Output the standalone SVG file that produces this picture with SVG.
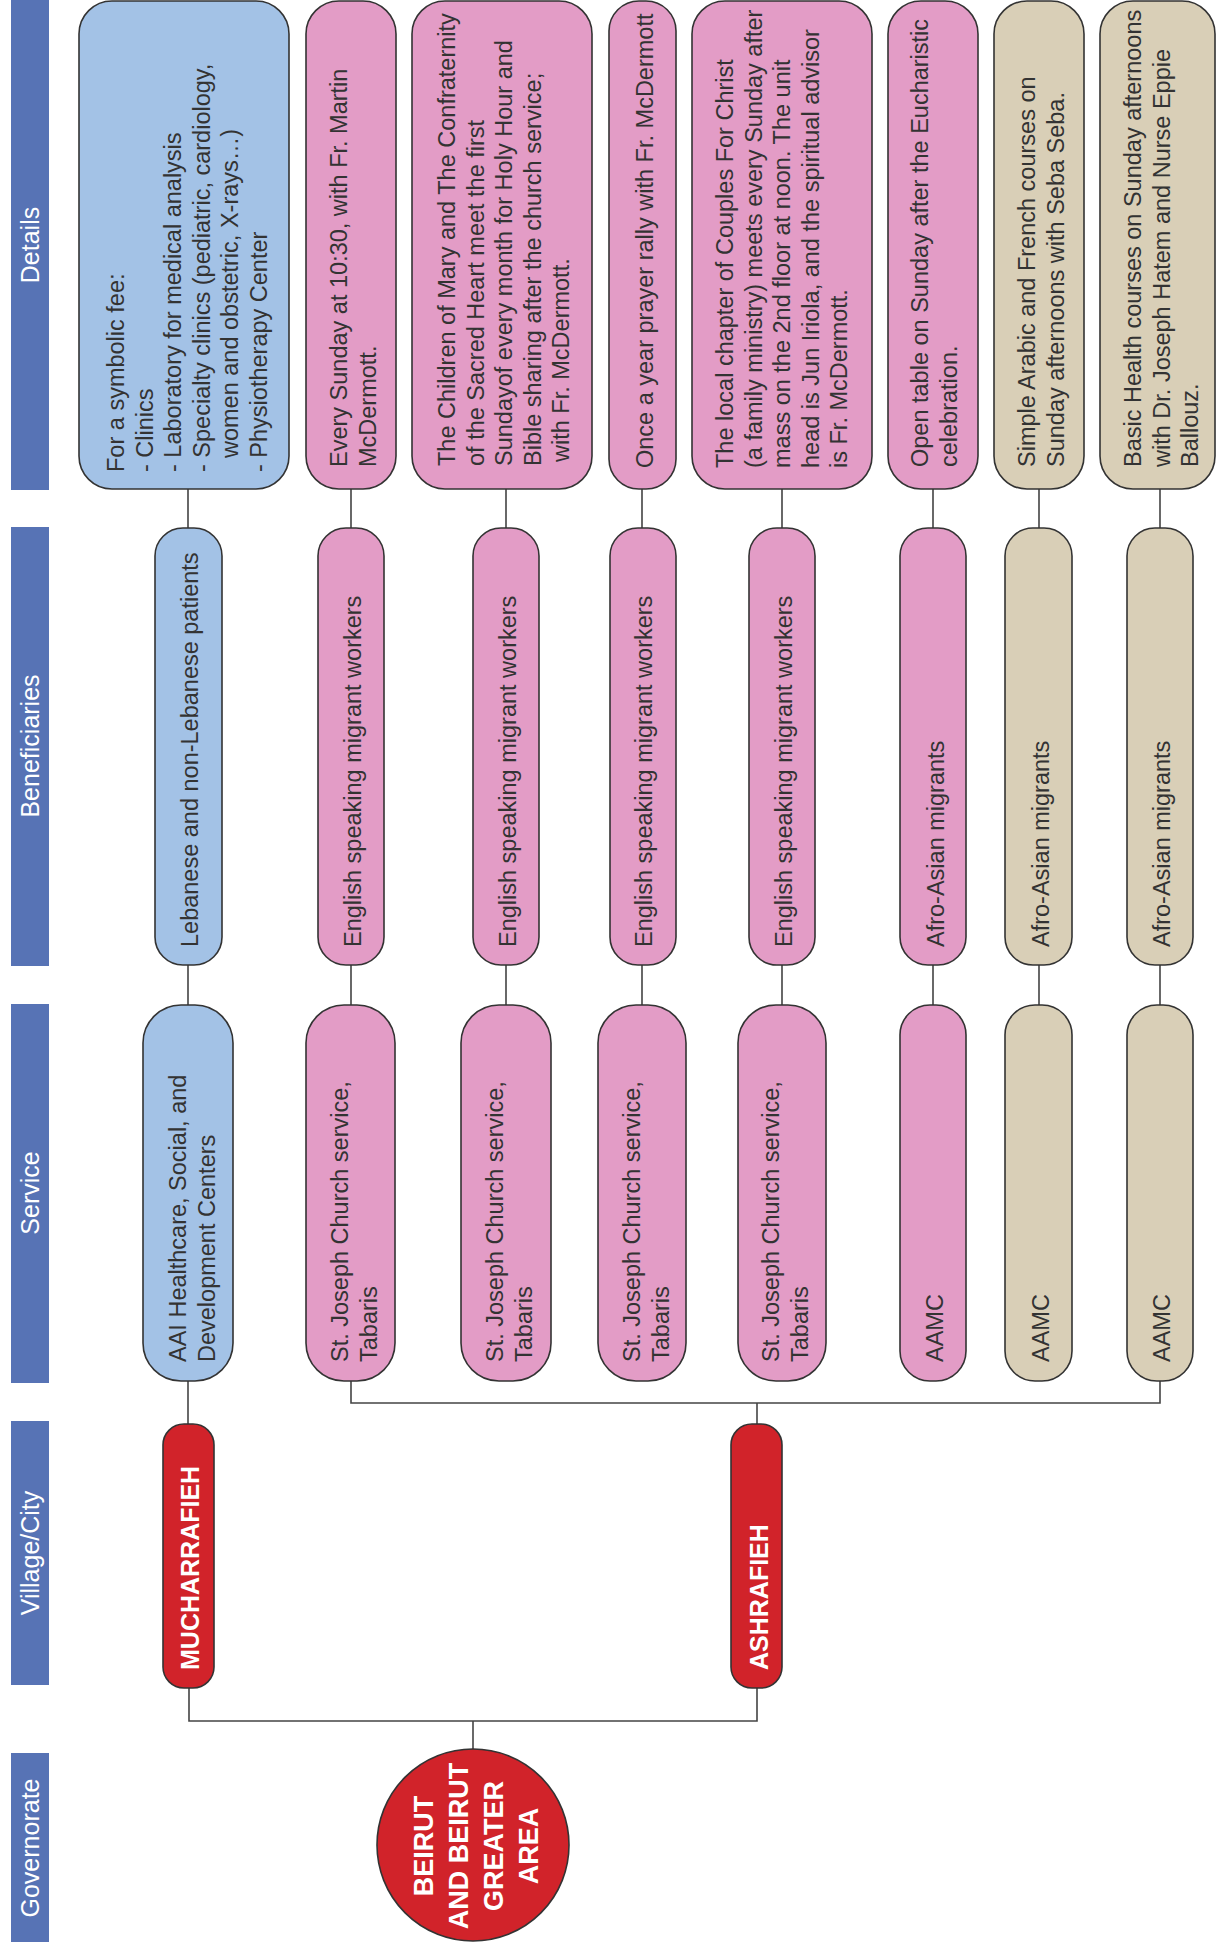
<svg xmlns="http://www.w3.org/2000/svg" width="1216" height="1949" viewBox="0 0 1216 1949">
<style>
.hdr{fill:#5773B5}
.ht{fill:#fff;font-family:"Liberation Sans",Arial,sans-serif;font-size:25px;text-anchor:middle}
.box{stroke:#333;stroke-width:1.6}
.blue{fill:#A3C2E6}
.pink{fill:#E39CC6}
.tan{fill:#D9CFB7}
.red{fill:#D1232A}
.t{font-family:"Liberation Sans",Arial,sans-serif;font-size:23.5px;fill:#333}
.tw{font-family:"Liberation Sans",Arial,sans-serif;font-weight:bold;fill:#fff}
.conn{stroke:#444;stroke-width:1.6;fill:none}
</style>
<rect width="1216" height="1949" fill="#fff"/>
<g id="headers">
<rect class="hdr" x="11" y="0" width="38" height="490"/>
<text class="ht" transform="translate(39,245) rotate(-90)">Details</text>
<rect class="hdr" x="11" y="527" width="38" height="439"/>
<text class="ht" transform="translate(39,746) rotate(-90)">Beneficiaries</text>
<rect class="hdr" x="11" y="1004" width="38" height="379"/>
<text class="ht" transform="translate(39,1193) rotate(-90)">Service</text>
<rect class="hdr" x="11" y="1421" width="38" height="264"/>
<text class="ht" transform="translate(39,1553) rotate(-90)">Village/City</text>
<rect class="hdr" x="11" y="1753" width="38" height="189"/>
<text class="ht" transform="translate(39,1848) rotate(-90)">Governorate</text>
</g>
<g id="connectors">
<path class="conn" d="M188 489V528M351 489V528M506 489V528M642 489V528M782 489V528M933 489V528M1039 489V528M1160 489V528"/>
<path class="conn" d="M188 965V1005M351 965V1005M506 965V1005M642 965V1005M782 965V1005M933 965V1005M1039 965V1005M1160 965V1005"/>
<path class="conn" d="M188 1381V1424"/>
<path class="conn" d="M351 1381V1403H1160V1381"/>
<path class="conn" d="M757 1403V1424"/>
<path class="conn" d="M189 1688V1721H757V1688"/>
<path class="conn" d="M473 1721V1749"/>
</g>
<g id="detail-1">
<rect class="box blue" x="79" y="1" width="210" height="488" rx="33"/>
<text class="t" transform="translate(124,472) rotate(-90)"><tspan x="0" y="0">For a symbolic fee:</tspan><tspan x="0" y="28.6">- Clinics</tspan><tspan x="0" y="57.2">- Laboratory for medical analysis</tspan><tspan x="0" y="85.8">- Specialty clinics (pediatric, cardiology,</tspan><tspan x="14" y="114.4">women and obstetric, X-rays…)</tspan><tspan x="0" y="143">- Physiotherapy Center</tspan></text>
</g>
<g id="detail-2">
<rect class="box pink" x="306" y="1" width="90" height="488" rx="33"/>
<text class="t" transform="translate(347,467) rotate(-90)"><tspan x="0" y="0">Every Sunday at 10:30, with Fr. Martin</tspan><tspan x="0" y="28.6">McDermott.</tspan></text>
</g>
<g id="detail-3">
<rect class="box pink" x="412" y="1" width="180" height="488" rx="33"/>
<text class="t" transform="translate(455,466) rotate(-90)"><tspan x="0" y="0">The Children of Mary and The Confraternity</tspan><tspan x="0" y="28.6">of the Sacred Heart meet the first</tspan><tspan x="0" y="57.2">Sundayof every month for Holy Hour and</tspan><tspan x="0" y="85.8">Bible sharing after the church service;</tspan><tspan x="4" y="114.4">with Fr. McDermott.</tspan></text>
</g>
<g id="detail-4">
<rect class="box pink" x="609" y="1" width="67" height="488" rx="30"/>
<text class="t" transform="translate(653,468) rotate(-90)">Once a year prayer rally with Fr. McDermott</text>
</g>
<g id="detail-5">
<rect class="box pink" x="692" y="1" width="180" height="488" rx="33"/>
<text class="t" transform="translate(733,468) rotate(-90)"><tspan x="0" y="0">The local chapter of Couples For Christ</tspan><tspan x="0" y="28.6">(a family ministry) meets every Sunday after</tspan><tspan x="0" y="57.2">mass on the 2nd floor at noon. The unit</tspan><tspan x="0" y="85.8">head is Jun Iriola, and the spiritual advisor</tspan><tspan x="0" y="114.4">is Fr. McDermott.</tspan></text>
</g>
<g id="detail-6">
<rect class="box pink" x="888" y="1" width="90" height="488" rx="33"/>
<text class="t" transform="translate(928,467) rotate(-90)"><tspan x="0" y="0">Open table on Sunday after the Eucharistic</tspan><tspan x="0" y="28.6">celebration.</tspan></text>
</g>
<g id="detail-7">
<rect class="box tan" x="994" y="1" width="90" height="488" rx="33"/>
<text class="t" transform="translate(1035,467) rotate(-90)"><tspan x="0" y="0">Simple Arabic and French courses on</tspan><tspan x="0" y="28.6">Sunday afternoons with Seba Seba.</tspan></text>
</g>
<g id="detail-8">
<rect class="box tan" x="1100" y="1" width="115" height="488" rx="33"/>
<text class="t" transform="translate(1141,467) rotate(-90)"><tspan x="0" y="0">Basic Health courses on Sunday afternoons</tspan><tspan x="0" y="28.6">with Dr. Joseph Hatem and Nurse Eppie</tspan><tspan x="0" y="57.2">Ballouz.</tspan></text>
</g>
<g id="beneficiary-1">
<rect class="box blue" x="155" y="528" width="67" height="437" rx="28"/>
<text class="t" transform="translate(198,947) rotate(-90)">Lebanese and non-Lebanese patients</text>
</g>
<g id="beneficiary-2">
<rect class="box pink" x="318" y="528" width="66" height="437" rx="28"/>
<text class="t" transform="translate(361,947) rotate(-90)">English speaking migrant workers</text>
</g>
<g id="beneficiary-3">
<rect class="box pink" x="473" y="528" width="66" height="437" rx="28"/>
<text class="t" transform="translate(516,947) rotate(-90)">English speaking migrant workers</text>
</g>
<g id="beneficiary-4">
<rect class="box pink" x="610" y="528" width="66" height="437" rx="28"/>
<text class="t" transform="translate(652,947) rotate(-90)">English speaking migrant workers</text>
</g>
<g id="beneficiary-5">
<rect class="box pink" x="749" y="528" width="66" height="437" rx="28"/>
<text class="t" transform="translate(792,947) rotate(-90)">English speaking migrant workers</text>
</g>
<g id="beneficiary-6">
<rect class="box pink" x="900" y="528" width="66" height="437" rx="28"/>
<text class="t" transform="translate(944,947) rotate(-90)">Afro-Asian migrants</text>
</g>
<g id="beneficiary-7">
<rect class="box tan" x="1005" y="528" width="67" height="437" rx="28"/>
<text class="t" transform="translate(1049,947) rotate(-90)">Afro-Asian migrants</text>
</g>
<g id="beneficiary-8">
<rect class="box tan" x="1127" y="528" width="66" height="437" rx="28"/>
<text class="t" transform="translate(1170,947) rotate(-90)">Afro-Asian migrants</text>
</g>
<g id="service-1">
<rect class="box blue" x="143" y="1005" width="90" height="376" rx="38"/>
<text class="t" transform="translate(186,1362) rotate(-90)"><tspan x="0" y="0">AAI Healthcare, Social, and</tspan><tspan x="0" y="28.6">Development Centers</tspan></text>
</g>
<g id="service-2">
<rect class="box pink" x="306" y="1005" width="89" height="376" rx="38"/>
<text class="t" transform="translate(348,1362) rotate(-90)"><tspan x="0" y="0">St. Joseph Church service,</tspan><tspan x="0" y="28.6">Tabaris</tspan></text>
</g>
<g id="service-3">
<rect class="box pink" x="461" y="1005" width="90" height="376" rx="38"/>
<text class="t" transform="translate(503,1362) rotate(-90)"><tspan x="0" y="0">St. Joseph Church service,</tspan><tspan x="0" y="28.6">Tabaris</tspan></text>
</g>
<g id="service-4">
<rect class="box pink" x="598" y="1005" width="88" height="376" rx="38"/>
<text class="t" transform="translate(640,1362) rotate(-90)"><tspan x="0" y="0">St. Joseph Church service,</tspan><tspan x="0" y="28.6">Tabaris</tspan></text>
</g>
<g id="service-5">
<rect class="box pink" x="738" y="1005" width="88" height="376" rx="38"/>
<text class="t" transform="translate(779,1362) rotate(-90)"><tspan x="0" y="0">St. Joseph Church service,</tspan><tspan x="0" y="28.6">Tabaris</tspan></text>
</g>
<g id="service-6">
<rect class="box pink" x="900" y="1005" width="66" height="376" rx="30"/>
<text class="t" transform="translate(943,1362) rotate(-90)">AAMC</text>
</g>
<g id="service-7">
<rect class="box tan" x="1005" y="1005" width="67" height="376" rx="30"/>
<text class="t" transform="translate(1049,1362) rotate(-90)">AAMC</text>
</g>
<g id="service-8">
<rect class="box tan" x="1127" y="1005" width="66" height="376" rx="30"/>
<text class="t" transform="translate(1170,1362) rotate(-90)">AAMC</text>
</g>
<g id="village-mucharrafieh">
<rect class="box red" x="163" y="1424" width="51" height="264" rx="21"/>
<text class="tw" font-size="25" transform="translate(199,1670) rotate(-90)">MUCHARRAFIEH</text>
</g>
<g id="village-ashrafieh">
<rect class="box red" x="731" y="1424" width="51" height="264" rx="21"/>
<text class="tw" font-size="25" transform="translate(768,1670) rotate(-90)">ASHRAFIEH</text>
</g>
<g id="governorate-beirut">
<circle class="box red" cx="473" cy="1845" r="96"/>
<text class="tw" font-size="27" text-anchor="middle" transform="translate(433,1846) rotate(-90)"><tspan x="0" y="0">BEIRUT</tspan><tspan x="0" y="35">AND BEIRUT</tspan><tspan x="0" y="70">GREATER</tspan><tspan x="0" y="105">AREA</tspan></text>
</g>
</svg>
